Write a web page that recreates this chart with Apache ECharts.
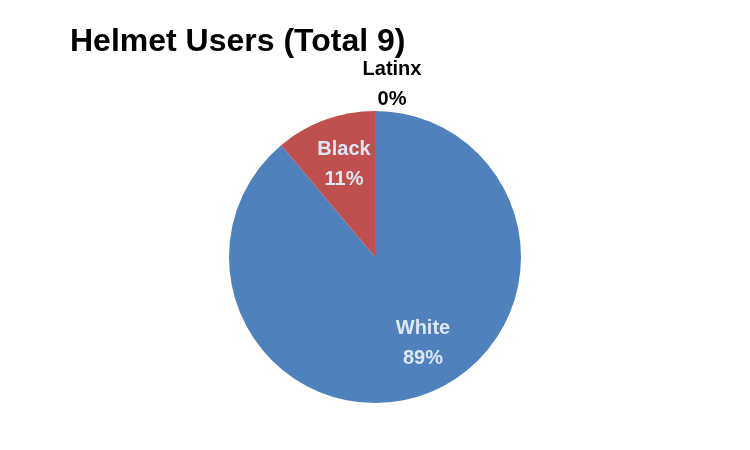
<!DOCTYPE html>
<html><head><meta charset="utf-8">
<script src="https://cdn.jsdelivr.net/npm/echarts@6/dist/echarts.min.js"></script>
<style>html,body{margin:0;padding:0;background:#fff}#c{width:750px;height:450px}</style>
</head><body><div id="c"></div>
<script>
var categories = ['White', 'Black', 'Latinx'];
var values = [8, 1, 0];
var colors = ['#4F81BD', '#C0504D', '#9BBB59'];
var titleText = 'Helmet Users (Total 9)';

var labelStyles = [
  {position: 'inside', color: '#DCE8F4', offset: [22, 15]},
  {position: 'inside', color: '#DCE8F4', offset: [-5, -21]},
  {position: 'inside', color: '#000000', offset: [17, -97]}
];

var data = categories.map(function (c, i) {
  return {
    name: c, value: values[i],
    itemStyle: {color: colors[i]},
    label: labelStyles[i],
    labelLine: {show: false}
  };
});

var chart = echarts.init(document.getElementById('c'));
chart.setOption({
  animation: false,
  title: {
    text: titleText, left: 65, top: 21,
    textStyle: {fontFamily: 'Liberation Sans', fontWeight: 'bold', fontSize: 32, color: '#000'}
  },
  series: [{
    type: 'pie',
    center: [375, 257],
    radius: 146,
    startAngle: 90,
    clockwise: true,
    avoidLabelOverlap: false,
    label: {
      show: true,
      formatter: function (p) { return p.name + '\n' + Math.round(p.percent) + '%'; },
      fontFamily: 'Liberation Sans', fontWeight: 'bold', fontSize: 20, lineHeight: 30
    },
    labelLine: {show: false},
    itemStyle: {borderWidth: 0},
    emphasis: {disabled: true},
    data: data
  }]
});
</script></body></html>
